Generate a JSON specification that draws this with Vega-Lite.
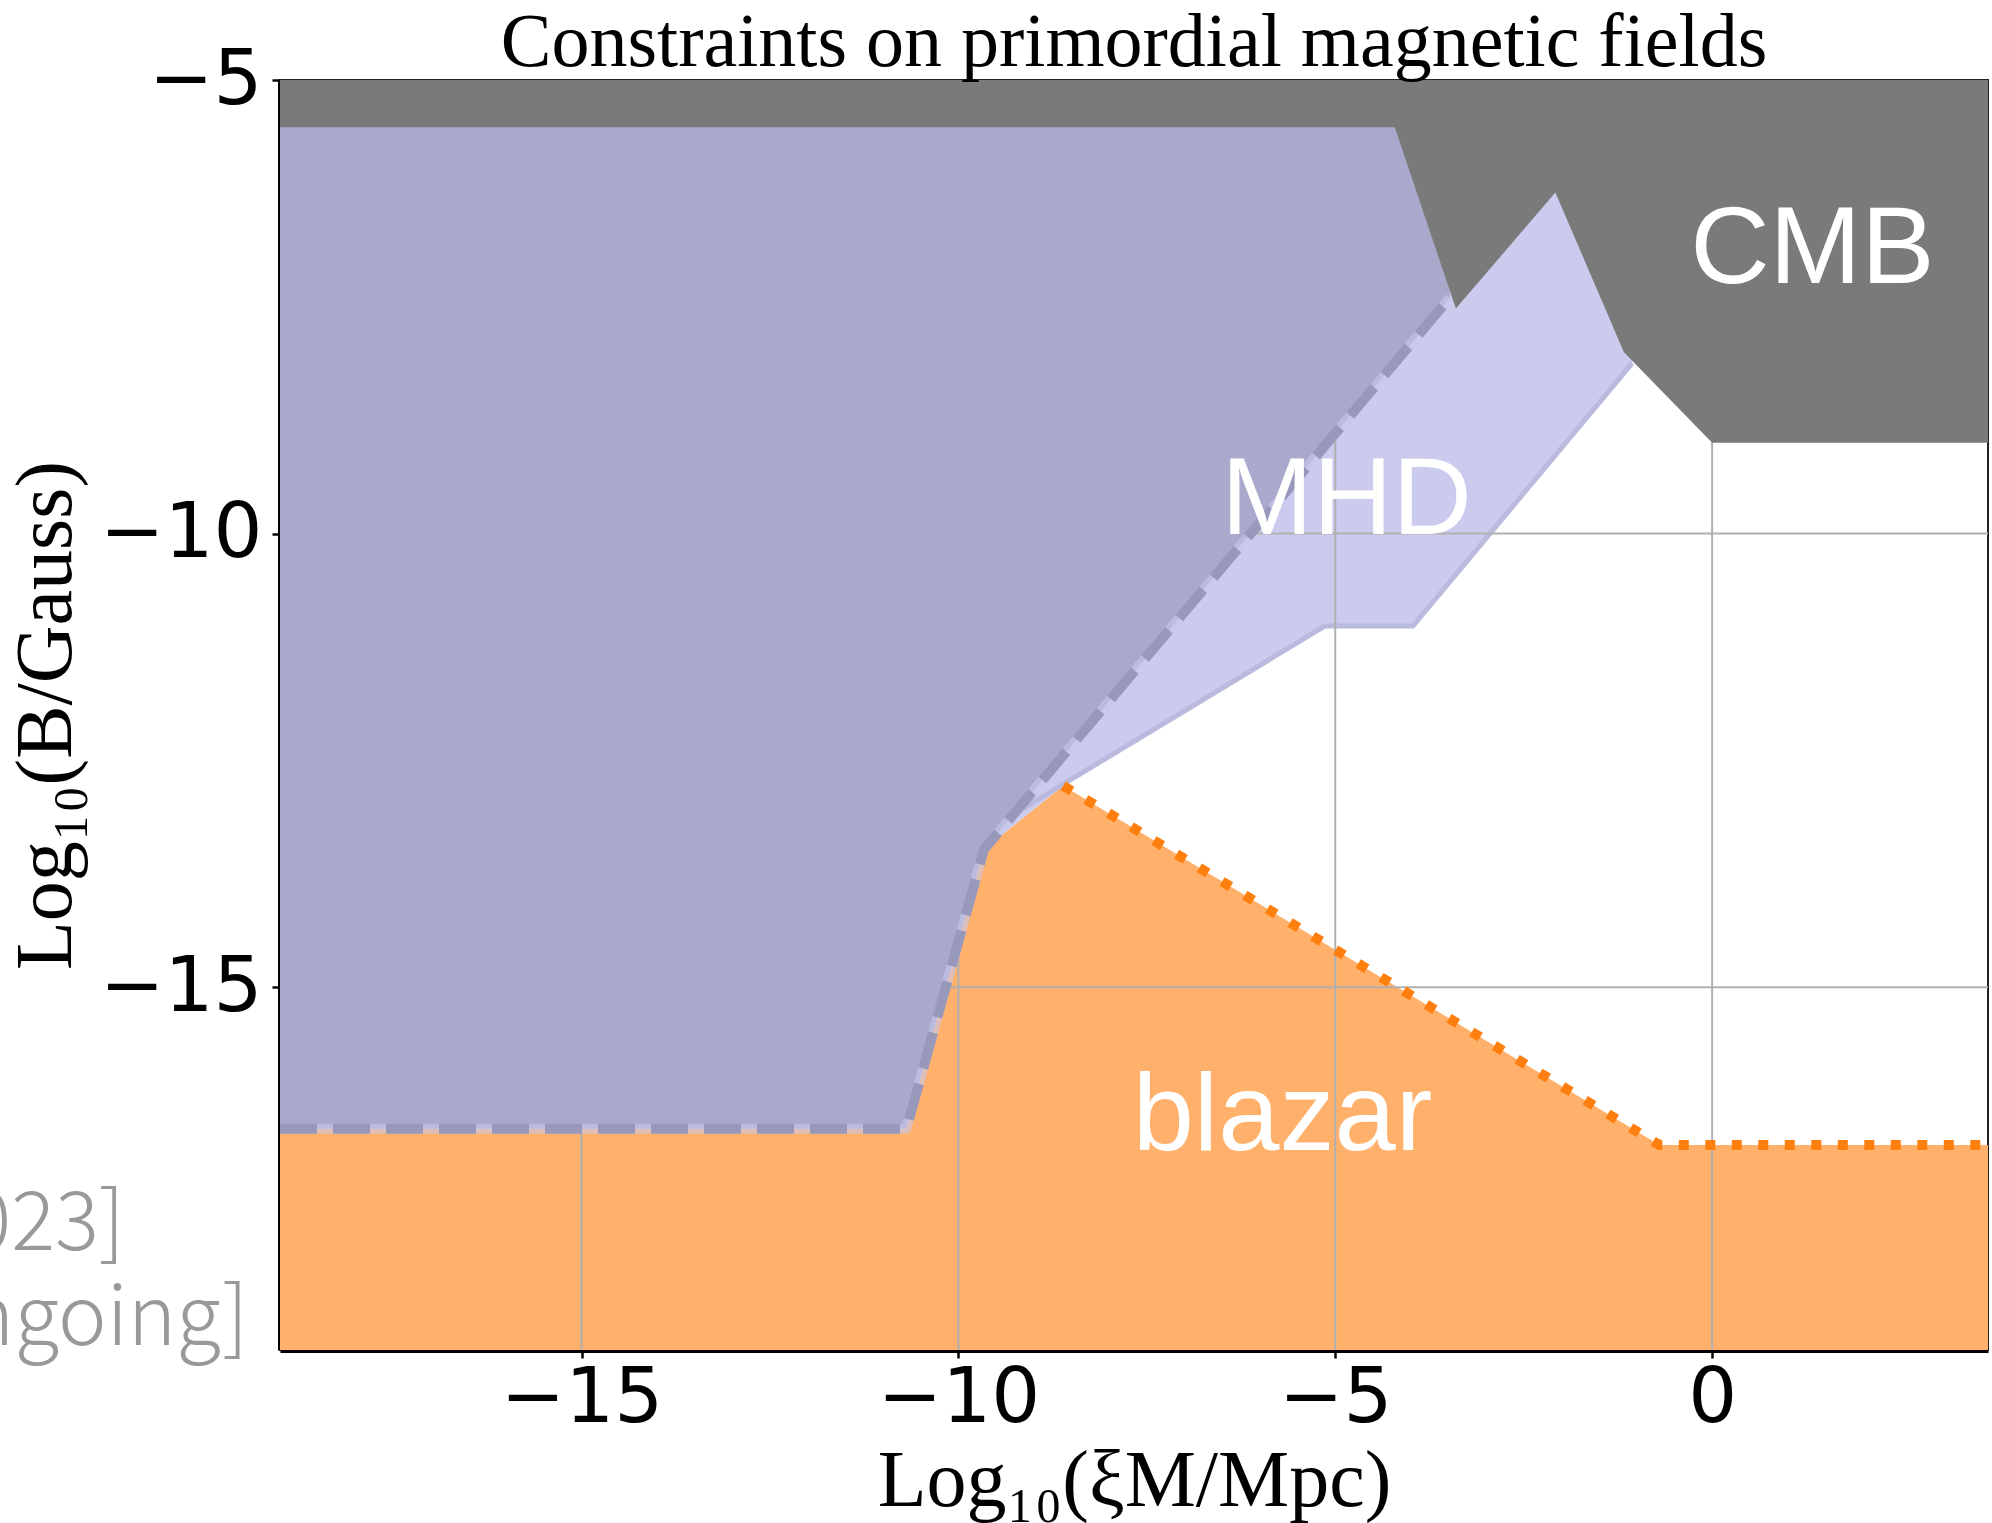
{
  "$schema": "https://vega.github.io/schema/vega-lite/v6.json",
  "autosize": {"type": "none"},
  "width": 1708,
  "height": 1270,
  "padding": {"left": 280, "top": 80, "right": 4, "bottom": 173},
  "background": "white",
  "title": {
    "text": "Constraints on primordial magnetic fields",
    "font": "Liberation Serif",
    "fontSize": 76,
    "fontWeight": "normal",
    "color": "black",
    "anchor": "middle",
    "frame": "group",
    "baseline": "alphabetic",
    "offset": 0,
    "dy": 101
  },
  "config": {
    "view": {"stroke": "#222222", "strokeWidth": 2},
    "axis": {
      "grid": false,
      "domainColor": "black",
      "domainWidth": 5,
      "tickColor": "black",
      "tickWidth": 2.5,
      "tickSize": 8,
      "labelFont": "DejaVu Sans",
      "labelFontSize": 77,
      "labelColor": "black",
      "labelFlush": false,
      "labelOverlap": false,
      "labelLimit": 0,
      "format": "d",
      "titleFont": "Liberation Serif",
      "titleFontSize": 80,
      "titleFontWeight": "normal",
      "titleColor": "black",
      "titleLimit": 0
    }
  },
  "datasets": {
    "blazar": [
      {"x": -19, "y": -16.56},
      {"x": -10.69, "y": -16.56},
      {"x": -9.66, "y": -13.48},
      {"x": -8.61, "y": -12.78},
      {"x": -0.70, "y": -16.74},
      {"x": 3.66, "y": -16.74}
    ],
    "mhd_light": [
      {"x": -9.66, "y": -13.48},
      {"x": -8.61, "y": -12.78},
      {"x": -5.14, "y": -11.02},
      {"x": -3.97, "y": -11.02},
      {"x": -1.06, "y": -8.12}
    ],
    "mhd_edge": [
      {"x": -9.2, "y": -13.06},
      {"x": -5.14, "y": -11.02},
      {"x": -3.97, "y": -11.02},
      {"x": -1.06, "y": -8.12}
    ],
    "mhd_dark": [
      {"x": -19, "y": -16.56},
      {"x": -10.69, "y": -16.56},
      {"x": -9.66, "y": -13.48},
      {"x": -3.48, "y": -7.40}
    ],
    "cmb": [
      {"x": -19, "y": -5.52},
      {"x": -4.21, "y": -5.52},
      {"x": -3.40, "y": -7.52},
      {"x": -2.08, "y": -6.24},
      {"x": -1.17, "y": -8.0},
      {"x": 0, "y": -9.0},
      {"x": 3.66, "y": -9.0}
    ],
    "dotted": [
      {"x": -8.61, "y": -12.78},
      {"x": -0.70, "y": -16.74},
      {"x": 3.66, "y": -16.74}
    ],
    "gridx": [{"x": -15}, {"x": -10}, {"x": -5}, {"x": 0}],
    "gridy": [{"y": -10}, {"y": -15}],
    "labels": [
      {"x": 1.33, "y": -7.24, "label": "CMB"},
      {"x": -4.85, "y": -10.0, "label": "MHD"},
      {"x": -5.70, "y": -16.79, "label": "blazar"}
    ],
    "refs": [
      {"x": -21.06, "y": -17.90, "label": "[2023]"},
      {"x": -19.42, "y": -18.95, "label": "[ongoing]"}
    ]
  },
  "layer": [
    {
      "data": {"name": "blazar"},
      "mark": {"type": "area", "color": "#ffb06a", "interpolate": "linear"},
      "encoding": {
        "x": {"field": "x", "type": "quantitative", "scale": {"domain": [-19, 3.66], "nice": false, "zero": false},
              "axis": {"values": [-15, -10, -5, 0], "title": "Log₁₀(ξM/Mpc)", "labelPadding": 2, "titleX": 854, "titleY": 155, "titleBaseline": "alphabetic", "titleAlign": "center"}},
        "y": {"field": "y", "type": "quantitative", "scale": {"domain": [-19, -5], "nice": false, "zero": false},
              "axis": {"values": [-5, -10, -15], "title": "Log₁₀(B/Gauss)", "labelPadding": 10, "titleX": -210, "titleY": 635, "titleAngle": 270, "titleBaseline": "alphabetic", "titleAlign": "center"}},
        "y2": {"datum": -19}
      }
    },
    {
      "data": {"name": "mhd_light"},
      "mark": {"type": "area", "color": "#cbcbed", "interpolate": "linear"},
      "encoding": {
        "x": {"field": "x", "type": "quantitative", "scale": {"domain": [-19, 3.66], "nice": false, "zero": false}},
        "y": {"field": "y", "type": "quantitative", "scale": {"domain": [-19, -5], "nice": false, "zero": false}},
        "y2": {"datum": -5}
      }
    },
    {
      "data": {"name": "mhd_edge"},
      "mark": {"type": "line", "color": "#babade", "strokeWidth": 5},
      "encoding": {
        "x": {"field": "x", "type": "quantitative", "scale": {"domain": [-19, 3.66], "nice": false, "zero": false}},
        "y": {"field": "y", "type": "quantitative", "scale": {"domain": [-19, -5], "nice": false, "zero": false}}
      }
    },
    {
      "data": {"name": "gridx"},
      "mark": {"type": "rule", "color": "#b0b0b0", "strokeWidth": 2},
      "encoding": {
        "x": {"field": "x", "type": "quantitative", "scale": {"domain": [-19, 3.66], "nice": false, "zero": false}}
      }
    },
    {
      "data": {"name": "gridy"},
      "mark": {"type": "rule", "color": "#b0b0b0", "strokeWidth": 2},
      "encoding": {
        "y": {"field": "y", "type": "quantitative", "scale": {"domain": [-19, -5], "nice": false, "zero": false}}
      }
    },
    {
      "data": {"name": "mhd_dark"},
      "mark": {"type": "area", "color": "#a9a9cb", "interpolate": "linear"},
      "encoding": {
        "x": {"field": "x", "type": "quantitative", "scale": {"domain": [-19, 3.66], "nice": false, "zero": false}},
        "y": {"field": "y", "type": "quantitative", "scale": {"domain": [-19, -5], "nice": false, "zero": false}},
        "y2": {"datum": -5}
      }
    },
    {
      "data": {"name": "mhd_dark"},
      "mark": {"type": "line", "color": "#c8c8ee", "opacity": 0.6, "strokeWidth": 10, "strokeJoin": "round"},
      "encoding": {
        "x": {"field": "x", "type": "quantitative", "scale": {"domain": [-19, 3.66], "nice": false, "zero": false}},
        "y": {"field": "y", "type": "quantitative", "scale": {"domain": [-19, -5], "nice": false, "zero": false}}
      }
    },
    {
      "data": {"name": "mhd_dark"},
      "mark": {"type": "line", "color": "#9898ba", "strokeWidth": 10, "strokeDash": [37, 16], "strokeJoin": "round"},
      "encoding": {
        "x": {"field": "x", "type": "quantitative", "scale": {"domain": [-19, 3.66], "nice": false, "zero": false}},
        "y": {"field": "y", "type": "quantitative", "scale": {"domain": [-19, -5], "nice": false, "zero": false}}
      }
    },
    {
      "data": {"name": "cmb"},
      "mark": {"type": "area", "color": "#7a7a7a", "interpolate": "linear"},
      "encoding": {
        "x": {"field": "x", "type": "quantitative", "scale": {"domain": [-19, 3.66], "nice": false, "zero": false}},
        "y": {"field": "y", "type": "quantitative", "scale": {"domain": [-19, -5], "nice": false, "zero": false}},
        "y2": {"datum": -5}
      }
    },
    {
      "data": {"name": "dotted"},
      "mark": {"type": "line", "color": "#ff7f0e", "strokeWidth": 10, "strokeDash": [10, 16.5]},
      "encoding": {
        "x": {"field": "x", "type": "quantitative", "scale": {"domain": [-19, 3.66], "nice": false, "zero": false}},
        "y": {"field": "y", "type": "quantitative", "scale": {"domain": [-19, -5], "nice": false, "zero": false}}
      }
    },
    {
      "data": {"name": "labels"},
      "mark": {"type": "text", "font": "Liberation Sans", "fontSize": 110, "color": "white", "align": "center", "baseline": "alphabetic"},
      "encoding": {
        "x": {"field": "x", "type": "quantitative", "scale": {"domain": [-19, 3.66], "nice": false, "zero": false}},
        "y": {"field": "y", "type": "quantitative", "scale": {"domain": [-19, -5], "nice": false, "zero": false}},
        "text": {"field": "label"}
      }
    },
    {
      "data": {"name": "refs"},
      "mark": {"type": "text", "font": "Noto Sans CJK JP", "fontWeight": 300, "fontSize": 82, "color": "#999999", "align": "right", "baseline": "alphabetic"},
      "encoding": {
        "x": {"field": "x", "type": "quantitative", "scale": {"domain": [-19, 3.66], "nice": false, "zero": false}},
        "y": {"field": "y", "type": "quantitative", "scale": {"domain": [-19, -5], "nice": false, "zero": false}},
        "text": {"field": "label"}
      }
    }
  ]
}
